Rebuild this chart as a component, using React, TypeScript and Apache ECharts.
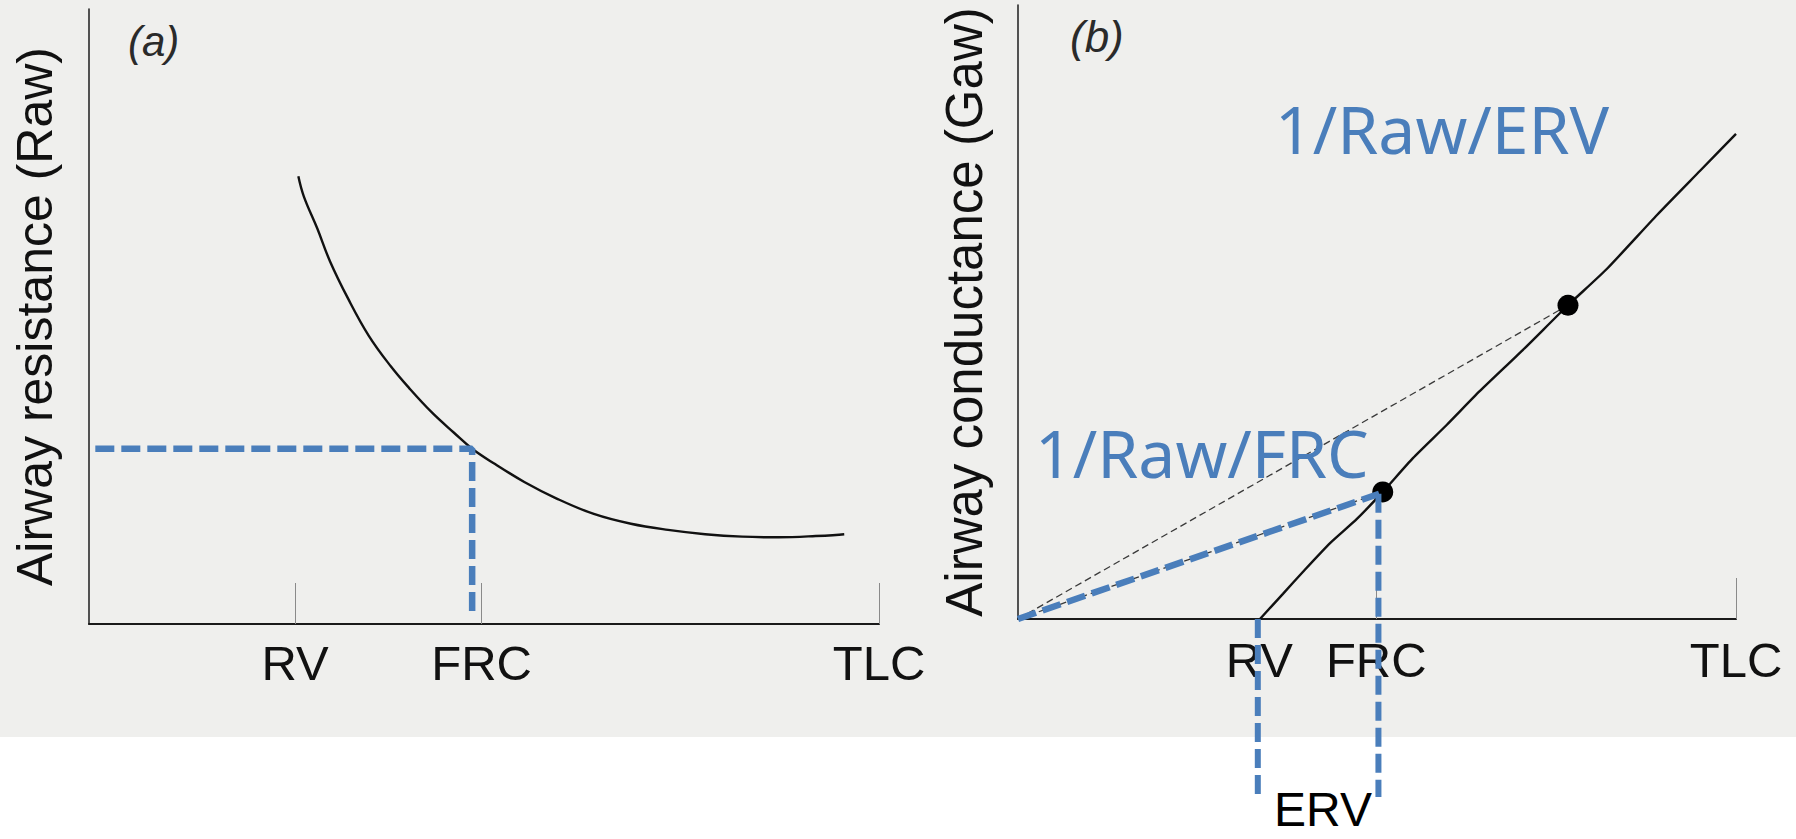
import React, { useEffect, useRef } from 'react';
import * as echarts from 'echarts';

// ---------- Data ----------
const volumeLabels = ['RV', 'FRC', 'TLC'];

// Panel (a): airway resistance vs lung volume (volume scale 0-100, TLC = 100)
const panelATicks = [26.1, 49.7, 100];
const rawX = [26.5, 27.2, 28.9, 30.5, 32.8, 35.4, 38.2, 40.5, 43.4, 46.2, 48.5, 51.4, 55.1, 59.2, 63.9, 68.6, 73.3, 78.0, 82.7, 87.3, 92.0, 95.6];
const rawY = [72.8, 69.5, 64.3, 59.0, 52.9, 46.9, 41.9, 38.4, 34.4, 31.1, 28.5, 26.0, 23.1, 20.4, 17.9, 16.3, 15.3, 14.6, 14.2, 14.1, 14.3, 14.6];
const frcGuideA = [[0.8, 28.5], [48.5, 28.5], [48.5, 1.3]];

// Panel (b): airway conductance vs lung volume
const panelBLabelPos = [33.6, 49.9, 100];
const panelBTicks = [49.9, 100];
const gawX = [33.7, 36.9, 39.7, 43.5, 47.2, 50.8, 55.0, 59.7, 64.3, 70.3, 76.6, 82.0, 89.0, 95.0, 100];
const gawY = [0, 4.1, 7.7, 12.4, 16.3, 20.7, 26.2, 31.6, 37.1, 43.8, 51.1, 57.0, 65.8, 73.0, 79.0];
const markedPoints = [[50.8, 20.7], [76.6, 51.1]];
const chordUpper = [[0, 0], [76.6, 51.1]];
const chordFrc = [[0, 0], [50.8, 20.7]];
const blueChord = [[0, 0], [50.3, 20.4]];
const blueFrcDrop = [[50.2, 20.4], [50.2, -29]];
const blueRvDrop = [[33.4, 0], [33.4, -29]];

const BLUE = '#4a7ebb';

const zip = (xs: number[], ys: number[]) => xs.map((x, i) => [x, ys[i]]);

function mkX(gridIndex: number, tickPos: number[], labelPos: number[], margin: number) {
  return {
    type: 'value',
    gridIndex,
    min: 0,
    max: 100,
    axisLine: { show: true, onZero: false, lineStyle: { color: '#1a1a1a', width: 2.2 } },
    axisTick: { show: true, inside: true, length: 41, customValues: tickPos, lineStyle: { color: '#8a8a8a', width: 1 } },
    axisLabel: {
      show: true,
      customValues: labelPos,
      margin,
      fontSize: 49,
      fontFamily: 'Liberation Sans, Arial, sans-serif',
      color: '#111',
      formatter: (v: number) => {
        let best = 0;
        labelPos.forEach((p, i) => { if (Math.abs(p - v) < Math.abs(labelPos[best] - v)) best = i; });
        return volumeLabels[best];
      },
    },
    splitLine: { show: false },
  };
}

function mkY(gridIndex: number, name: string, fontSize: number, nameGap: number) {
  return {
    type: 'value',
    gridIndex,
    min: 0,
    max: 100,
    name,
    nameLocation: 'middle',
    nameRotate: 90,
    nameGap,
    nameTextStyle: { fontSize, fontFamily: 'Liberation Sans, Arial, sans-serif', color: '#111' },
    axisLine: { show: true, onZero: false, lineStyle: { color: '#2a2a2a', width: 1.6 } },
    axisTick: { show: false },
    axisLabel: { show: false },
    splitLine: { show: false },
  };
}

const blueDash = (w: number) => ({ color: BLUE, width: w, type: [19, 7], cap: 'butt' });

export default function App() {
  const ref = useRef<HTMLDivElement>(null);
  useEffect(() => {
    const chart = echarts.init(ref.current!, null, { renderer: 'svg' });
    const option: any = {
      animation: false,
      backgroundColor: 'transparent',
      grid: [
        { left: 89, right: 917, top: 9, bottom: 215, containLabel: false, outerBoundsMode: 'none' },
        { left: 1018, right: 60, top: 5, bottom: 220, containLabel: false, outerBoundsMode: 'none' },
      ],
      xAxis: [mkX(0, panelATicks, panelATicks, 14), mkX(1, panelBTicks, panelBLabelPos, 16)],
      yAxis: [
        mkY(0, 'Airway resistance (Raw)', 50, 29),
        mkY(1, 'Airway conductance (Gaw)', 51, 28),
      ],
      series: [
        {
          name: 'Raw',
          type: 'line',
          xAxisIndex: 0,
          yAxisIndex: 0,
          data: zip(rawX, rawY),
          smooth: 0.4,
          showSymbol: false,
          lineStyle: { color: '#111', width: 2.4 },
          z: 3,
        },
        {
          name: 'FRC guide (a)',
          type: 'line',
          xAxisIndex: 0,
          yAxisIndex: 0,
          data: frcGuideA,
          showSymbol: false,
          clip: false,
          lineStyle: blueDash(6.5),
          z: 4,
        },
        {
          name: 'Gaw',
          type: 'line',
          xAxisIndex: 1,
          yAxisIndex: 1,
          data: zip(gawX, gawY),
          smooth: 0.2,
          showSymbol: false,
          lineStyle: { color: '#111', width: 2.4 },
          z: 3,
        },
        {
          name: 'chord upper',
          type: 'line',
          xAxisIndex: 1,
          yAxisIndex: 1,
          data: chordUpper,
          showSymbol: false,
          lineStyle: { color: '#3a3a3a', width: 1.3, type: [7, 4] },
          z: 2,
        },
        {
          name: 'chord FRC',
          type: 'line',
          xAxisIndex: 1,
          yAxisIndex: 1,
          data: chordFrc,
          showSymbol: false,
          lineStyle: { color: '#3a3a3a', width: 1.3, type: [7, 4] },
          z: 2,
        },
        {
          name: 'points',
          type: 'scatter',
          xAxisIndex: 1,
          yAxisIndex: 1,
          data: markedPoints,
          symbolSize: 21,
          itemStyle: { color: '#000', opacity: 1 },
          z: 4,
        },
        {
          name: 'blue chord',
          type: 'line',
          xAxisIndex: 1,
          yAxisIndex: 1,
          data: blueChord,
          showSymbol: false,
          clip: false,
          lineStyle: blueDash(6.5),
          z: 5,
        },
        {
          name: 'blue FRC drop',
          type: 'line',
          xAxisIndex: 1,
          yAxisIndex: 1,
          data: blueFrcDrop,
          showSymbol: false,
          clip: false,
          lineStyle: blueDash(6),
          z: 5,
        },
        {
          name: 'blue RV drop',
          type: 'line',
          xAxisIndex: 1,
          yAxisIndex: 1,
          data: blueRvDrop,
          showSymbol: false,
          clip: false,
          lineStyle: blueDash(6),
          z: 5,
        },
      ],
      graphic: [
        {
          type: 'text', left: 128, top: 20, z: 10,
          style: { text: '(a)', fontSize: 42, fontStyle: 'italic', fontFamily: 'Liberation Sans, Arial, sans-serif', fill: '#2a2a2a' },
        },
        {
          type: 'text', left: 1070, top: 14, z: 10,
          style: { text: '(b)', fontSize: 44, fontStyle: 'italic', fontFamily: 'Liberation Sans, Arial, sans-serif', fill: '#2a2a2a' },
        },
        {
          type: 'text', x: 1275, y: 128, z: 10,
          style: { text: '1/Raw/ERV', fontSize: 66, fontFamily: 'Noto Sans, Open Sans, sans-serif', fill: BLUE, align: 'left', verticalAlign: 'middle' },
        },
        {
          type: 'text', x: 1035, y: 452, z: 10,
          style: { text: '1/Raw/FRC', fontSize: 66, fontFamily: 'Noto Sans, Open Sans, sans-serif', fill: BLUE, align: 'left', verticalAlign: 'middle' },
        },
        {
          type: 'text', x: 1323, y: 809, z: 10,
          style: { text: 'ERV', fontSize: 48, fontFamily: 'Liberation Sans, Arial, sans-serif', fill: '#000', align: 'center', verticalAlign: 'middle' },
        },
      ],
    };
    chart.setOption(option);
    return () => chart.dispose();
  }, []);
  return (
    <div
      ref={ref}
      style={{
        position: 'absolute',
        left: 0,
        top: 0,
        width: 1796,
        height: 839,
        background: 'linear-gradient(to bottom, #efefed 0px, #efefed 737px, #ffffff 737px, #ffffff 839px)',
      }}
    />
  );
}
